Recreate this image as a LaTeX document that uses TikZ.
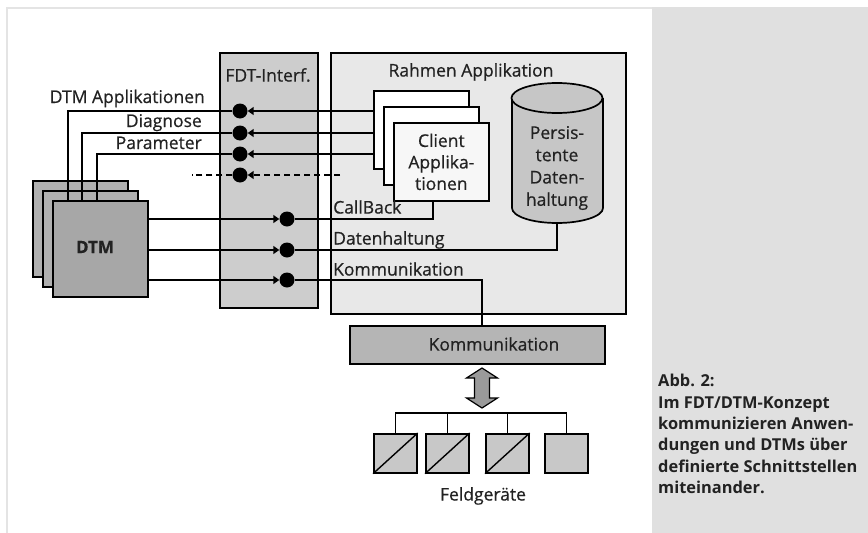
\documentclass[tikz,border=0pt]{standalone}
\usepackage{fontspec}
\setmainfont{Open Sans}
\newfontfamily\diafont{Open Sans}[FakeBold=0.6]
\usetikzlibrary{arrows.meta}
\definecolor{panelgray}{HTML}{E0E0E0}
\definecolor{framegray}{HTML}{E4E4E4}
\definecolor{fdtgray}{HTML}{CDCDCD}
\definecolor{rahmengray}{HTML}{E8E8E8}
\definecolor{cylgray}{HTML}{C6C6C6}
\definecolor{dtmgray}{HTML}{B0B0B0}
\definecolor{kommgray}{HTML}{B5B5B5}
\definecolor{devgray}{HTML}{C8C8C8}
\definecolor{arrowgray}{HTML}{9A9A9A}
\definecolor{clientwhite}{HTML}{F7F7F7}
\definecolor{textdark}{HTML}{222222}
\begin{document}
\begin{tikzpicture}[x=1pt,y=-1pt,
  box/.style={draw=black, line width=1.7pt, inner sep=0pt, anchor=north west},
  lbl/.style={font=\diafont\fontsize{17.5}{21}\selectfont, text=textdark, inner sep=0pt},
  dotnode/.style={circle, fill=black, minimum size=15pt, inner sep=0pt},
  conn/.style={line width=1.6pt},
  tipl/.style={-{Triangle[length=6pt,width=8pt]}},
  busline/.style={line width=1.2pt}
]
\useasboundingbox (0,0) rectangle (868,533);
% outer frame and caption panel
\fill[panelgray] (652,7) rectangle (868,533);
\draw[framegray, line width=1.5pt] (7,533) -- (7,8) -- (652,8);
\node[anchor=north west, align=left, inner sep=0pt, text=textdark,
      font=\bfseries\fontsize{16.4}{21.4}\selectfont] (cap) at (658,374)
  {Abb. 2:\\Im FDT/DTM-Konzept\\kommunizieren Anwen-\\dungen und DTMs über\\definierte Schnittstellen\\miteinander.};

% main boxes
\node[box, fill=fdtgray, minimum width=98pt, minimum height=255pt] (fdt) at (219,52) {};
\node[lbl] (fdtl) at (268,75) {FDT-Interf.};
\node[box, fill=rahmengray, minimum width=295pt, minimum height=261pt] (rahmen) at (330,52) {};
\node[lbl] (rahmenl) at (471,72) {Rahmen Applikation};

% DTM stack (back layers)
\node[box, fill=dtmgray, minimum width=95pt, minimum height=96pt] (dtm3) at (32,180) {};
\node[box, fill=dtmgray, minimum width=95pt, minimum height=96pt] (dtm2) at (42,190) {};

% client application stack
\node[box, fill=white, minimum width=95pt, minimum height=78pt] (cb1) at (373,90) {};
\node[box, fill=white, minimum width=95pt, minimum height=78pt] (cb2) at (383,106) {};
\node[box, fill=clientwhite, minimum width=95pt, minimum height=78pt, align=center,
      font=\diafont\fontsize{17.5}{21.5}\selectfont, text=textdark] (cf) at (393,122) {Client\\Applika-\\tionen};

% cylinder
\draw[line width=1.7pt, fill=cylgray] (512,98) -- (512,208)
  .. controls (512,216.3) and (531.9,223) .. (557,223)
  .. controls (582.1,223) and (603,216.3) .. (603,208) -- (603,98);
\draw[line width=1.7pt, fill=cylgray] (557,98) ellipse [x radius=45.5, y radius=15];
\coordinate (cylbot) at (557,223);
\node[lbl, align=center, font=\diafont\fontsize{17.5}{22.3}\selectfont] (cyll) at (557,168) {Persis-\\tente\\Daten-\\haltung};

% dots
\node[dotnode] (d1) at (240,111) {};
\node[dotnode] (d2) at (240,133) {};
\node[dotnode] (d3) at (240,154) {};
\node[dotnode] (d4) at (240,175) {};
\node[dotnode] (e1) at (287,219) {};
\node[dotnode] (e2) at (287,250) {};
\node[dotnode] (e3) at (287,280) {};

% corner coordinates
\coordinate (v1) at (68,200);
\coordinate (v2) at (82,200);
\coordinate (v3) at (97,200);
\coordinate (dashR) at (340,175);
\coordinate (dashL) at (192,175);
\coordinate (cbk) at (433,200);
\coordinate (kt) at (482,325);

% connectors from client applications to FDT interface
\draw[conn, tipl] (cb1.west |- d1) -- (d1.east);
\draw[conn, tipl] (cb1.west |- d2) -- (d2.east);
\draw[conn, tipl] (cb1.west |- d3) -- (d3.east);
\draw[conn, tipl, dashed, dash pattern=on 6pt off 4pt] (dashR) -- (d4.east);
\draw[conn, dashed, dash pattern=on 6pt off 4pt] (d4.west) -- (dashL);
\draw[conn] (d1.west) -| (v1);
\draw[conn] (d2.west) -| (v2);
\draw[conn] (d3.west) -| (v3);

% front DTM box
\node[box, fill=dtmgray!95!black, minimum width=95pt, minimum height=96pt] (dtm) at (52,200) {};
\node[lbl, font=\diafont\bfseries\fontsize{17}{22}\selectfont] (dtml) at (95,247) {DTM};

% labels left
\node[lbl, anchor=base east] (la1) at (205,103) {DTM Applikationen};
\node[lbl, anchor=base east] (la2) at (202,127) {Diagnose};
\node[lbl, anchor=base east] (la3) at (202,149) {Parameter};

% DTM to FDT
\draw[conn, tipl] (dtm.east |- e1) -- (e1.west);
\draw[conn, tipl] (dtm.east |- e2) -- (e2.west);
\draw[conn, tipl] (dtm.east |- e3) -- (e3.west);
\draw[conn] (e1.east) -| (cbk);
\draw[conn] (e2.east) -| (cylbot);
\draw[conn] (e3.east) -| (kt);
\node[lbl, anchor=west] (lb1) at (333,207) {CallBack};
\node[lbl, anchor=west] (lb2) at (333,240) {Datenhaltung};
\node[lbl, anchor=west] (lb3) at (333,269) {Kommunikation};

% Kommunikation box
\node[box, fill=kommgray, minimum width=255pt, minimum height=38pt] (komm) at (349,325) {};
\node[lbl] (komml) at (494,344) {Kommunikation};

% double arrow
\draw[line width=1.2pt, fill=arrowgray, line join=miter]
  (482,368) -- (497.5,378) -- (489.5,378) -- (489.5,398) -- (497.5,398) -- (482,408)
  -- (466.5,398) -- (474.5,398) -- (474.5,378) -- (466.5,378) -- cycle;

% field devices
\node[box, fill=devgray, minimum width=43pt, minimum height=39pt] (dev1) at (373,433) {};
\node[box, fill=devgray, minimum width=43pt, minimum height=39pt] (dev2) at (425,433) {};
\node[box, fill=devgray, minimum width=43pt, minimum height=39pt] (dev3) at (485,433) {};
\node[box, fill=devgray, minimum width=43pt, minimum height=39pt] (dev4) at (544,433) {};
\draw[line width=1.4pt] (dev1.south west) -- (dev1.north east);
\draw[line width=1.4pt] (dev2.south west) -- (dev2.north east);
\draw[line width=1.4pt] (dev3.south west) -- (dev3.north east);
\coordinate (busy) at (0,413);
\draw[busline] (dev1.north) -- (dev1.north |- busy) -- (dev4.north |- busy) -- (dev4.north);
\draw[busline] (dev2.north) -- (dev2.north |- busy);
\draw[busline] (dev3.north) -- (dev3.north |- busy);
\node[lbl] (feld) at (483,496) {Feldgeräte};
\end{tikzpicture}
\end{document}
